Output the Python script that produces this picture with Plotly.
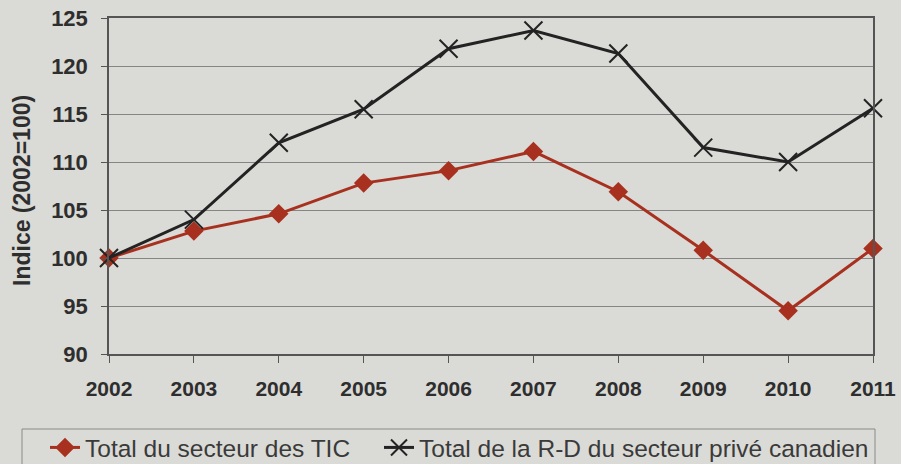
import plotly.graph_objects as go

years = [2002, 2003, 2004, 2005, 2006, 2007, 2008, 2009, 2010, 2011]
tic_total = [100.0, 102.8, 104.6, 107.8, 109.1, 111.1, 106.9, 100.8, 94.5, 101.0]
rd_prive = [100.0, 104.0, 112.0, 115.5, 121.8, 123.7, 121.3, 111.5, 110.0, 115.6]
y_ticks = [90, 95, 100, 105, 110, 115, 120, 125]

name_tic = "Total du secteur des TIC"
name_rd = "Total de la R-D du secteur privé canadien"
y_title = "Indice (2002=100)"

bg = "#dadad6"
red = "#a8301f"
black = "#232323"
FONT = "Liberation Sans, Arial, sans-serif"

W, H = 901, 464
ML, MR, MT, MB = 109, 28, 18, 110
PW, PH = W - ML - MR, H - MT - MB


def px_x(p):
    return (p - ML) / PW


def px_y(p):
    return (H - MB - p) / PH


fig = go.Figure()
fig.add_trace(go.Scatter(
    x=years, y=tic_total, name=name_tic, mode="lines+markers",
    line=dict(color=red, width=3),
    marker=dict(symbol="diamond", size=15, color=red),
    cliponaxis=False, legend="legend",
))
fig.add_trace(go.Scatter(
    x=years, y=rd_prive, name=name_rd, mode="lines+markers",
    line=dict(color=black, width=3),
    marker=dict(symbol="x-thin", size=18, line=dict(color=black, width=2)),
    cliponaxis=False, legend="legend2",
))

# legend frame
fig.add_shape(type="rect", xref="paper", yref="paper",
              x0=px_x(22), x1=px_x(875), y0=px_y(472), y1=px_y(429),
              line=dict(color="#8a8a8a", width=1), fillcolor="rgba(0,0,0,0)", layer="above")

# y-axis title
fig.add_annotation(text=y_title, xref="paper", yref="paper", x=px_x(22), y=px_y(191),
                   xanchor="center", yanchor="middle", textangle=-90, showarrow=False,
                   font=dict(size=23, weight="bold", color="#2e2e2e", family=FONT))

legend_common = dict(
    orientation="h", xref="paper", yref="paper", xanchor="left", yanchor="top",
    font=dict(size=24.5, color="#3a3a3a", family=FONT),
    borderwidth=0, bgcolor="rgba(0,0,0,0)", itemwidth=30,
)

fig.update_layout(
    width=W, height=H,
    margin=dict(l=ML, r=MR, t=MT, b=MB, autoexpand=False),
    paper_bgcolor=bg, plot_bgcolor=bg,
    font=dict(family=FONT, color="#333333"),
    legend=dict(x=px_x(45), y=px_y(425), **legend_common),
    legend2=dict(x=px_x(379), y=px_y(425), **legend_common),
    showlegend=True,
)
fig.update_xaxes(
    range=[2002, 2011], tickmode="array", tickvals=years,
    ticktext=[str(y) for y in years],
    tickfont=dict(size=21, family=FONT, color="#2e2e2e", weight="bold"),
    showgrid=False, showline=True, linecolor="#555555", linewidth=1.5, mirror=True,
    ticks="outside", ticklen=7, tickcolor="#555555", tickwidth=1,
    ticklabelstandoff=8, zeroline=False, automargin=False,
)
fig.update_yaxes(
    range=[90, 125], tickmode="array", tickvals=y_ticks,
    tickfont=dict(size=22, family=FONT, color="#2e2e2e", weight="bold"),
    showgrid=True, gridcolor="#858585", gridwidth=1,
    showline=True, linecolor="#555555", linewidth=1.5, mirror=True,
    ticks="outside", ticklen=6, tickcolor="#555555", tickwidth=1,
    ticklabelstandoff=9, zeroline=False, automargin=False,
)

fig.write_html("out.html", config={"displayModeBar": False},
               post_script="document.body.style.margin='0px';")
